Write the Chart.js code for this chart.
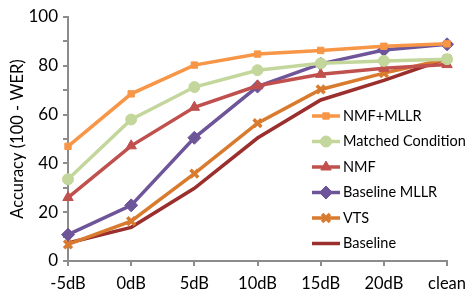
<!DOCTYPE html>
<html>
<head>
<meta charset="utf-8">
<script src="https://cdn.jsdelivr.net/npm/chart.js@4"></script>
<style>
  html, body { margin: 0; padding: 0; background: #fff; }
  #wrap { width: 474px; height: 295px; }
</style>
</head>
<body>
<div id="wrap"><canvas id="chart" width="474" height="295"></canvas></div>
<script>
const categories = ['-5dB', '0dB', '5dB', '10dB', '15dB', '20dB', 'clean'];
const nmfMllr = [47, 68.5, 80.3, 84.8, 86.3, 88, 89];
const matched = [33.5, 58, 71.3, 78.2, 81, 82, 82.7];
const nmf = [26, 47.2, 63, 71.8, 76.5, 79, 80.5];
const baselineMllr = [10.8, 22.8, 50.5, 71.5, 80.8, 86.5, 88.8];
const vts = [6.8, 16.3, 35.8, 56.5, 70.3, 77, 82.8];
const baseline = [7.4, 13.8, 29.8, 50.4, 66, 74, 83];
const yTicks = [0, 20, 40, 60, 80, 100];

const FONT = 'Lato, "Open Sans", sans-serif';
const AXIS = '#8c8c8c';

function series(label, data, color, style, radius) {
  return {
    label, data,
    borderColor: color,
    backgroundColor: color,
    borderWidth: 3.5,
    pointStyle: style,
    pointRadius: radius,
    pointHoverRadius: radius,
    pointBorderWidth: style === 'crossRot' ? 3.5 : 1,
    tension: 0
  };
}

const datasets = [
  series('NMF+MLLR', nmfMllr, '#f79646', 'rect', 4.5),
  series('Matched Condition', matched, '#c3d69b', 'circle', 5.5),
  series('NMF', nmf, '#c0504d', 'triangle', 6),
  series('Baseline MLLR', baselineMllr, '#6e559a', 'rectRot', 6.5),
  series('VTS', vts, '#d97b2e', 'crossRot', 5.5),
  series('Baseline', baseline, '#9b2f2d', false, 0)
];

// legend drawn inside the plot area, lower right
const insideLegend = {
  id: 'insideLegend',
  afterDraw(chart) {
    const ctx = chart.ctx;
    const x0 = 312, x1 = 340, tx = 343;
    let y = 116;
    ctx.save();
    ctx.font = '14.5px ' + FONT;
    ctx.textBaseline = 'middle';
    chart.data.datasets.forEach(ds => {
      ctx.strokeStyle = ds.borderColor;
      ctx.fillStyle = ds.backgroundColor;
      ctx.lineWidth = 3.5;
      ctx.beginPath();
      ctx.moveTo(x0, y);
      ctx.lineTo(x1, y);
      ctx.stroke();
      if (ds.pointStyle) {
        ctx.lineWidth = ds.pointBorderWidth;
        Chart.helpers.drawPoint(ctx, {
          pointStyle: ds.pointStyle,
          radius: ds.pointRadius,
          borderWidth: ds.pointBorderWidth,
          rotation: 0
        }, (x0 + x1) / 2, y);
      }
      ctx.fillStyle = '#000';
      ctx.fillText(ds.label, tx, y);
      y += 25.5;
    });
    ctx.restore();
  }
};

Chart.defaults.font.family = FONT;
Chart.defaults.color = '#000';

new Chart(document.getElementById('chart'), {
  type: 'line',
  data: { labels: categories, datasets },
  options: {
    responsive: false,
    animation: false,
    events: [],
    layout: { padding: { top: 17, right: 22, left: 0, bottom: 0 } },
    plugins: {
      legend: { display: false },
      tooltip: { enabled: false }
    },
    scales: {
      x: {
        offset: false,
        grid: {
          display: true,
          drawOnChartArea: false,
          drawTicks: true,
          tickLength: 5,
          color: AXIS,
          lineWidth: 2
        },
        border: { color: AXIS, width: 2 },
        ticks: { font: { size: 16.5 }, padding: 8, maxRotation: 0, autoSkip: false },
        afterFit(scale) { scale.height = 34; }
      },
      y: {
        min: 0,
        max: 100,
        grid: {
          drawOnChartArea: false,
          drawTicks: true,
          tickLength: 5,
          color: AXIS,
          lineWidth: 2
        },
        border: { color: AXIS, width: 2 },
        ticks: {
          stepSize: 10,
          font: { size: 17 },
          padding: 5,
          callback: v => yTicks.includes(v) ? String(v) : ''
        },
        title: {
          display: true,
          text: 'Accuracy (100 - WER)',
          font: { size: 16.5 },
          padding: { top: 8, bottom: 0 }
        },
        afterFit(scale) { scale.width = 68; }
      }
    }
  },
  plugins: [insideLegend]
});
</script>
</body>
</html>
